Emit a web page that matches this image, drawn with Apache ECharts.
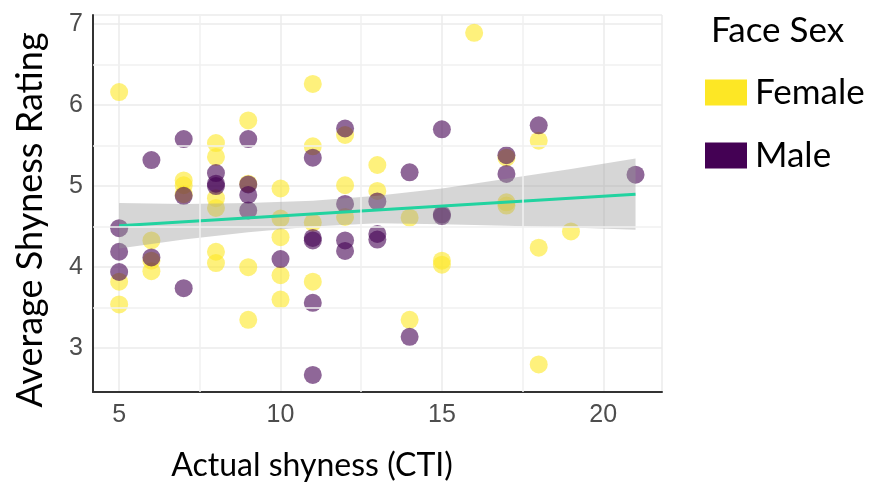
<!DOCTYPE html>
<html>
<head>
<meta charset="utf-8">
<script src="https://cdn.jsdelivr.net/npm/echarts@6/dist/echarts.min.js"></script>
<style>
  html, body { margin: 0; padding: 0; background: #fff; }
  #chart { width: 873px; height: 491px; }
</style>
</head>
<body>
<div id="chart"></div>
<script>
// points: x = CTI score, y = average rating
var femaleCTI = [5, 5, 5, 6, 6, 6, 7, 7, 7, 8, 8, 8, 8, 8, 8, 9, 9, 9, 9, 10, 10, 10, 10, 10,
  11, 11, 11, 11, 12, 12, 12, 13, 13, 14, 14, 15, 15, 16, 17, 17, 17, 18, 18, 18, 19];
var femaleRating = [6.16, 3.82, 3.54, 4.33, 4.08, 3.95, 5.07, 5.01, 4.90, 5.53, 5.36, 4.85, 4.73, 4.19, 4.05,
  5.81, 5.03, 4.00, 3.35, 4.97, 4.60, 4.37, 3.90, 3.60, 6.26, 5.49, 4.55, 3.82, 5.63, 5.01, 4.62,
  5.26, 4.94, 4.61, 3.35, 4.08, 4.03, 6.89, 5.35, 4.80, 4.76, 5.56, 4.24, 2.80, 4.44];
var maleCTI = [5, 5, 5, 6, 6, 7, 7, 7, 8, 8, 8, 9, 9, 9, 9, 10, 11, 11, 11, 11, 11,
  12, 12, 12, 12, 13, 13, 13, 14, 14, 15, 15, 15, 17, 17, 18, 21];
var maleRating = [4.48, 4.19, 3.94, 5.32, 4.12, 5.58, 4.88, 3.74, 5.16, 5.03, 5.00, 5.58, 5.02, 4.89, 4.70,
  4.10, 5.35, 4.36, 4.33, 3.56, 2.67, 5.71, 4.78, 4.33, 4.20, 4.81, 4.41, 4.34, 5.17, 3.14,
  5.70, 4.65, 4.63, 5.38, 5.15, 5.75, 5.14];

// fitted line and its confidence band
var fitX = [5, 21];
var fitY = [4.51, 4.90];
var bandX = [5, 7, 9, 11, 13, 15, 17, 19, 21];
var bandLow = [4.23, 4.34, 4.43, 4.50, 4.54, 4.53, 4.51, 4.49, 4.46];
var bandHigh = [4.79, 4.78, 4.79, 4.82, 4.88, 4.97, 5.09, 5.21, 5.34];

// minor grid lines
var minorX = [7.5, 12.5, 17.5];
var minorY = [3.5, 4.5, 5.5, 6.5];

var seriesNames = ['Female', 'Male'];

var chart = echarts.init(document.getElementById('chart'));

function pairs(xs, ys) {
  return xs.map(function(x, i) { return [x, ys[i]]; });
}

var gridMarks = minorX.map(function(v) { return { xAxis: v }; })
  .concat(minorY.map(function(v) { return { yAxis: v }; }));

var tickFont = { fontFamily: 'Liberation Sans', fontSize: 25, color: '#4d4d4d' };

chart.setOption({
  animation: false,
  grid: { left: 93, right: 211, top: 15, bottom: 99 },
  title: {
    text: 'Face Sex',
    left: 706,
    top: 8,
    textStyle: { fontFamily: 'Lato', fontSize: 35, fontWeight: 'normal', color: '#000' }
  },
  legend: {
    data: seriesNames,
    orient: 'vertical',
    left: 700,
    top: 70,
    icon: 'rect',
    itemWidth: 42,
    itemHeight: 26,
    itemGap: 28,
    itemStyle: { opacity: 1 },
    textStyle: { fontFamily: 'Lato', fontSize: 35, color: '#000', padding: [0, 0, 0, 3] }
  },
  xAxis: {
    type: 'value',
    min: 4.19,
    max: 21.82,
    splitNumber: 3,
    axisLine: { lineStyle: { color: '#333', width: 2 } },
    axisTick: { show: false },
    axisLabel: Object.assign({ margin: 11, showMinLabel: false, showMaxLabel: false }, tickFont),
    splitLine: { lineStyle: { color: '#ebebeb', width: 1.5 } }
  },
  yAxis: {
    type: 'value',
    min: 2.46,
    max: 7.11,
    splitNumber: 5,
    axisLine: { show: true, lineStyle: { color: '#333', width: 2 } },
    axisTick: { show: false },
    axisLabel: Object.assign({ margin: 10, showMinLabel: false, showMaxLabel: false }, tickFont),
    splitLine: { lineStyle: { color: '#ebebeb', width: 1.5 } }
  },
  graphic: [
    {
      type: 'text',
      x: 30, y: 220,
      rotation: Math.PI / 2,
      style: {
        text: 'Average Shyness Rating', align: 'center', verticalAlign: 'middle',
        fontFamily: 'Lato', fontSize: 36, fill: '#000'
      }
    },
    {
      type: 'text',
      x: 312, y: 466,
      style: {
        text: 'Actual shyness (CTI)', align: 'center', verticalAlign: 'middle',
        fontFamily: 'Lato', fontSize: 32, fill: '#000'
      }
    }
  ],
  series: [
    {
      type: 'scatter',
      data: [],
      z: 1,
      silent: true,
      markLine: {
        silent: true,
        symbol: 'none',
        label: { show: false },
        lineStyle: { color: '#f1f1f1', width: 1.5, type: 'solid' },
        data: gridMarks
      }
    },
    {
      name: 'Female',
      type: 'scatter',
      data: pairs(femaleCTI, femaleRating),
      symbolSize: 18,
      z: 2,
      itemStyle: { color: '#FDE725', opacity: 0.6 }
    },
    {
      name: 'Male',
      type: 'scatter',
      data: pairs(maleCTI, maleRating),
      symbolSize: 18,
      z: 2,
      itemStyle: { color: '#440154', opacity: 0.6 }
    },
    {
      type: 'custom',
      z: 3,
      silent: true,
      data: [[bandX[0], bandLow[0]]],
      renderItem: function(params, api) {
        var top = bandX.map(function(x, i) { return api.coord([x, bandHigh[i]]); });
        var bottom = bandX.map(function(x, i) { return api.coord([x, bandLow[i]]); }).reverse();
        return {
          type: 'polygon',
          shape: { points: top.concat(bottom) },
          style: { fill: 'rgba(153,153,153,0.4)' }
        };
      }
    },
    {
      type: 'line',
      data: pairs(fitX, fitY),
      z: 4,
      symbol: 'none',
      silent: true,
      lineStyle: { color: '#22D3A0', width: 3 }
    }
  ]
});
</script>
</body>
</html>
